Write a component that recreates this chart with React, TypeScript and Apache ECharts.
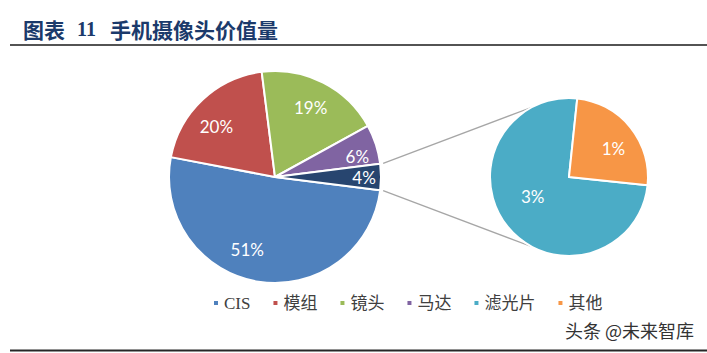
import React, { useEffect, useRef } from 'react';
import * as echarts from 'echarts';

// ---- data ----
const categories = ['CIS', '模组', '镜头', '马达', '滤光片', '其他'];
const shares = [51, 20, 19, 6, 3, 1];
const mainCount = 4; // first four slices in the main pie, the rest go to the secondary pie
const combinedName = '滤光片+其他';
const titleText = ['图表', '11', '手机摄像头价值量'];
const watermark = '头条 @未来智库';

// ---- styles / layout ----
const colors = ['#4F81BD', '#C0504D', '#9BBB59', '#8064A2', '#4BACC6', '#F79646'];
const combinedColor = '#27456F';
const W = 707;
const H = 353;
const MAIN = { cx: 275, cy: 177, r: 106 };
const SUB = { cx: 569, cy: 177, r: 79, startAngle: -6 };
// label placement (fraction of radius, angle nudge in degrees, clockwise)
const mainLabelRadius = [0.73, 0.73, 0.74, 0.8, 0.84];
const mainLabelAngle = [12, -6, 0, 4, 0];
const subLabelRadius = [0.52, 0.67];
const subLabelAngle = [11, 6];

function labelLayoutFor(c: { cx: number; cy: number; r: number }, rad: number[], adj: number[]) {
  return (p: any) => {
    const i = p.dataIndex;
    const lr = p.labelRect;
    const lx = lr.x + lr.width / 2;
    const ly = lr.y + lr.height / 2;
    const a = Math.atan2(ly - c.cy, lx - c.cx) + (adj[i] * Math.PI) / 180;
    const tx = c.cx + rad[i] * c.r * Math.cos(a);
    const ty = c.cy + rad[i] * c.r * Math.sin(a);
    return { dx: tx - lx, dy: ty - ly };
  };
}

export default function App() {
  const ref = useRef<HTMLDivElement>(null);

  useEffect(() => {
    document.body.style.margin = '0';
    if (!ref.current) return;
    const chart = echarts.init(ref.current, null, { renderer: 'svg' });

    const total = shares.reduce((s, v) => s + v, 0);
    const combined = shares.slice(mainCount).reduce((s, v) => s + v, 0);
    const halfCombinedDeg = (combined / total) * 180;

    const mainData = categories.slice(0, mainCount).map((n, i) => ({
      name: n,
      value: shares[i],
      itemStyle: { color: colors[i] },
    }));
    mainData.push({ name: combinedName, value: combined, itemStyle: { color: combinedColor } });

    const subData = categories.slice(mainCount).map((n, j) => ({
      name: n,
      value: shares[mainCount + j],
      itemStyle: { color: colors[mainCount + j] },
    }));

    const deg = Math.PI / 180;
    const mStartR = MAIN.r + 3;
    const subAng = 118 * deg;
    const p1 = [MAIN.cx + mStartR * Math.cos(halfCombinedDeg * deg), MAIN.cy - mStartR * Math.sin(halfCombinedDeg * deg)];
    const p2 = [SUB.cx + SUB.r * Math.cos(subAng), SUB.cy - SUB.r * Math.sin(subAng)];
    const q1 = [p1[0], 2 * MAIN.cy - p1[1]];
    const q2 = [p2[0], 2 * SUB.cy - p2[1]];

    const labelStyle = {
      show: true,
      position: 'inside',
      formatter: '{c}%',
      color: '#ffffff',
      fontFamily: 'Lato, "Open Sans", sans-serif',
      fontSize: 17,
    };

    chart.setOption({
      animation: false,
      legend: {
        data: categories,
        left: 212,
        top: 293,
        padding: 0,
        icon: 'rect',
        itemWidth: 6,
        itemHeight: 6,
        itemGap: 21,
        selectedMode: false,
        textStyle: {
          fontFamily: '"Liberation Serif", "Noto Sans CJK SC", serif',
          fontSize: 17,
          lineHeight: 20,
          color: '#404040',
        },
      },
      graphic: [
        {
          type: 'text',
          left: 23,
          top: 18,
          style: {
            text: `{a|${titleText[0]}}{b|${titleText[1]}}{a|${titleText[2]}}`,
            rich: {
              a: { fontFamily: '"Noto Sans CJK SC", sans-serif', fontWeight: 'bold', fontSize: 21, fill: '#1B3A6B' },
              b: {
                fontFamily: '"Liberation Serif", serif',
                fontWeight: 'bold',
                fontSize: 20,
                fill: '#1B3A6B',
                padding: [0, 14, 0, 12],
              },
            },
          },
        },
        {
          type: 'line',
          shape: { x1: 10, y1: 45, x2: W, y2: 45 },
          style: { stroke: '#1a1a1a', lineWidth: 1.5 },
        },
        {
          type: 'line',
          shape: { x1: 10, y1: 350.5, x2: W, y2: 350.5 },
          style: { stroke: '#262626', lineWidth: 2 },
        },
        {
          type: 'text',
          left: 565,
          top: 321,
          style: {
            text: watermark,
            fontFamily: '"Noto Sans CJK SC", sans-serif',
            fontSize: 18,
            fill: '#333333',
          },
        },
        {
          type: 'line',
          shape: { x1: p1[0], y1: p1[1], x2: p2[0], y2: p2[1] },
          style: { stroke: '#A6A6A6', lineWidth: 1.2 },
        },
        {
          type: 'line',
          shape: { x1: q1[0], y1: q1[1], x2: q2[0], y2: q2[1] },
          style: { stroke: '#A6A6A6', lineWidth: 1.2 },
        },
      ],
      series: [
        {
          type: 'pie',
          center: [MAIN.cx, MAIN.cy],
          radius: [0, MAIN.r],
          startAngle: -halfCombinedDeg,
          clockwise: true,
          silent: true,
          data: mainData,
          itemStyle: { borderColor: '#ffffff', borderWidth: 2 },
          label: labelStyle,
          labelLine: { show: false },
          labelLayout: labelLayoutFor(MAIN, mainLabelRadius, mainLabelAngle),
        },
        {
          type: 'pie',
          center: [SUB.cx, SUB.cy],
          radius: [0, SUB.r],
          startAngle: SUB.startAngle,
          clockwise: true,
          silent: true,
          data: subData,
          itemStyle: { borderColor: '#ffffff', borderWidth: 2 },
          label: labelStyle,
          labelLine: { show: false },
          labelLayout: labelLayoutFor(SUB, subLabelRadius, subLabelAngle),
        },
      ],
    });

    return () => chart.dispose();
  }, []);

  return <div ref={ref} style={{ width: W, height: H, background: '#ffffff' }} />;
}
